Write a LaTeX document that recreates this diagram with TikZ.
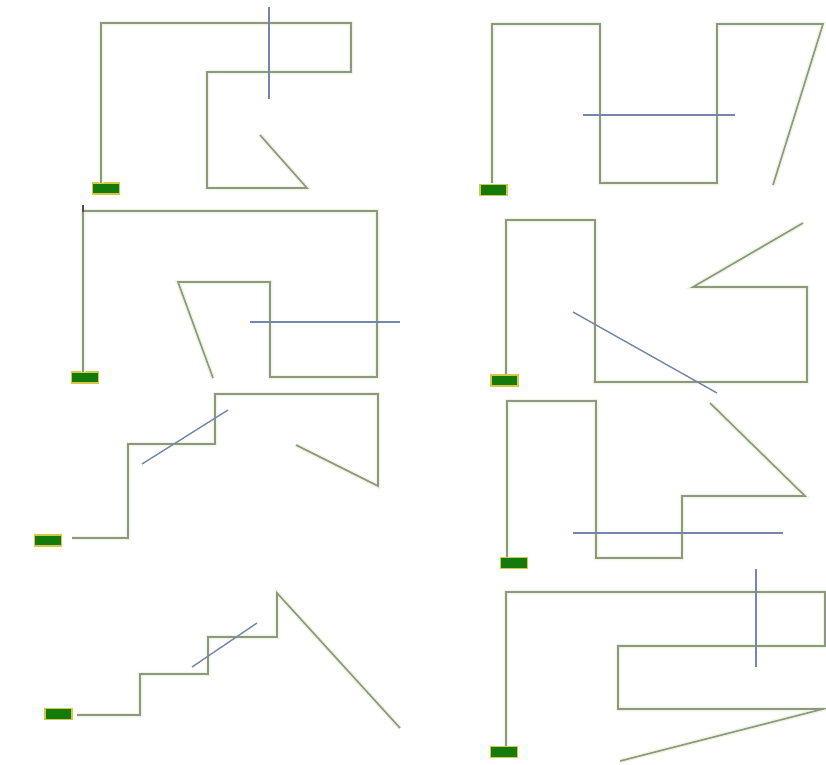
\documentclass[tikz,border=0pt]{standalone}
\begin{document}
\begin{tikzpicture}[x=1pt,y=-1pt,
  wire/.style={draw=wireglow,line width=4.5pt,line join=miter,
    postaction={draw=wirecol,line width=1.6pt}},
  probe/.style={draw=probecol,line width=1.4pt},
  feed/.style={draw=feededge,fill=feedfill,line width=1.3pt,minimum width=27pt,
    minimum height=11pt,inner sep=0pt,outer sep=0pt}]
\definecolor{wireglow}{HTML}{EEF5E0}
\definecolor{wirecol}{HTML}{8C9880}
\definecolor{probecol}{HTML}{7486AC}
\definecolor{feedfill}{HTML}{157A0C}
\definecolor{feededge}{HTML}{D6C846}
\useasboundingbox (0,0) rectangle (826,764);
% panel 1
\node[feed] (f1) at (106,188.5) {};
\draw[wire] (101,183) -- (101,23) -- (351,23) -- (351,72) -- (207,72) -- (207,188) -- (307,188) -- (260,135);
\draw[probe] (269,7) -- (269,99);
% panel 2
\node[feed] (f2) at (493.5,190) {};
\draw[wire] (492,183) -- (492,24) -- (600,24) -- (600,183) -- (717,183) -- (717,24) -- (823,24) -- (773,185);
\draw[probe] (583,115) -- (735,115);
% panel 3
\node[feed] (f3) at (85,377.5) {};
\draw[wire] (83,372) -- (83,211) -- (377,211) -- (377,377) -- (270,377) -- (270,282) -- (178,282) -- (213,378);
\draw[draw=black!70,line width=1.4pt] (83,205) -- (83,212);
\draw[probe] (250,322) -- (400,322);
% panel 4
\node[feed] (f4) at (504.5,380.5) {};
\draw[wire] (506,374) -- (506,220) -- (595,220) -- (595,382) -- (807,382) -- (807,287) -- (693,287) -- (803,223);
\draw[probe] (573,312) -- (717,393);
% panel 5
\node[feed] (f5) at (48,540.5) {};
\draw[wire] (72,538) -- (128,538) -- (128,444) -- (215,444) -- (215,394) -- (378,394) -- (378,486) -- (296,445);
\draw[probe] (142,464) -- (228,410);
% panel 6
\node[feed] (f6) at (514,563) {};
\draw[wire] (507,557) -- (507,401) -- (596,401) -- (596,558) -- (682,558) -- (682,496) -- (805,496) -- (710,403);
\draw[probe] (573,533) -- (783,533);
% panel 7
\node[feed] (f7) at (58.5,714) {};
\draw[wire] (77,715) -- (140,715) -- (140,674) -- (208,674) -- (208,637) -- (277,637) -- (277,593) -- (400,728);
\draw[probe] (192,667) -- (257,623);
% panel 8
\node[feed] (f8) at (504,752) {};
\draw[wire] (506,746) -- (506,592) -- (825,592) -- (825,646) -- (618,646) -- (618,709) -- (823,709) -- (620,761);
\draw[probe] (756,569) -- (756,667);
\end{tikzpicture}
\end{document}
